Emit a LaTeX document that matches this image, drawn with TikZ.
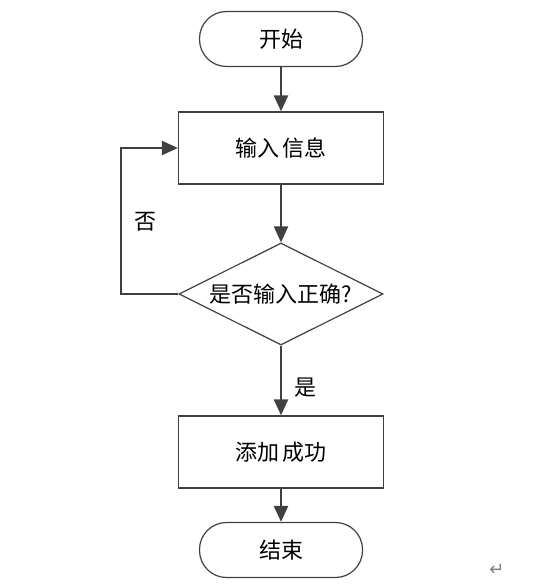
\documentclass[tikz,border=0pt]{standalone}
\usepackage{fontspec}
\newfontfamily\cjk{Noto Sans CJK SC}[Scale=1]
\newfontfamily\symfont{DejaVu Sans}
\usetikzlibrary{shapes.geometric,arrows.meta}

\definecolor{linegray}{HTML}{404040}

\begin{document}
\begin{tikzpicture}[
        x=1pt,y=-1pt,
        term/.style={draw=linegray,line width=1.2pt,rounded corners=27pt,minimum width=163pt,minimum height=55pt,inner sep=0pt,font=\cjk\fontsize{22}{26}\selectfont},
        proc/.style={draw=linegray,line width=1.2pt,minimum width=205pt,minimum height=72pt,inner sep=0pt,font=\cjk\fontsize{22}{26}\selectfont},
        decide/.style={draw=linegray,line width=1.2pt,diamond,aspect=2,minimum width=204pt,minimum height=102pt,inner sep=0pt,font=\cjk\fontsize{22}{26}\selectfont},
        flow/.style={draw=linegray,line width=2.4pt,-{Triangle[length=16pt,width=14pt]}},
        lbl/.style={font=\cjk\fontsize{22}{26}\selectfont}
    ]
    \useasboundingbox (0,0) rectangle (555,585);
    \node[term] (start) at (281,39) {开始};
    \node[proc] (input) at (281,148) {输入\kern4pt 信息};
    \node[decide] (check) at (281,294) {是否输入正确?};
    \node[proc] (done) at (281,452) {添加\kern4pt 成功};
    \node[term] (end) at (281,550) {结束};
    \coordinate (back) at (121,0);
    \draw[flow] (start)--(input);
    \draw[flow] (input)--(check);
    \draw[flow] (check)--(done);
    \draw[flow] (done)--(end);
    \draw[flow,line width=2pt] (check.west)-|(back|-check.west)--(back|-input.west)--(input.west);
    \node[lbl] (no) at (145,222) {否};
    \node[lbl] (yes) at (305,388) {是};
    \node[font=\symfont\fontsize{18}{20}\selectfont,text=gray] (ret) at (497,570) {↵};
\end{tikzpicture}
\end{document}
